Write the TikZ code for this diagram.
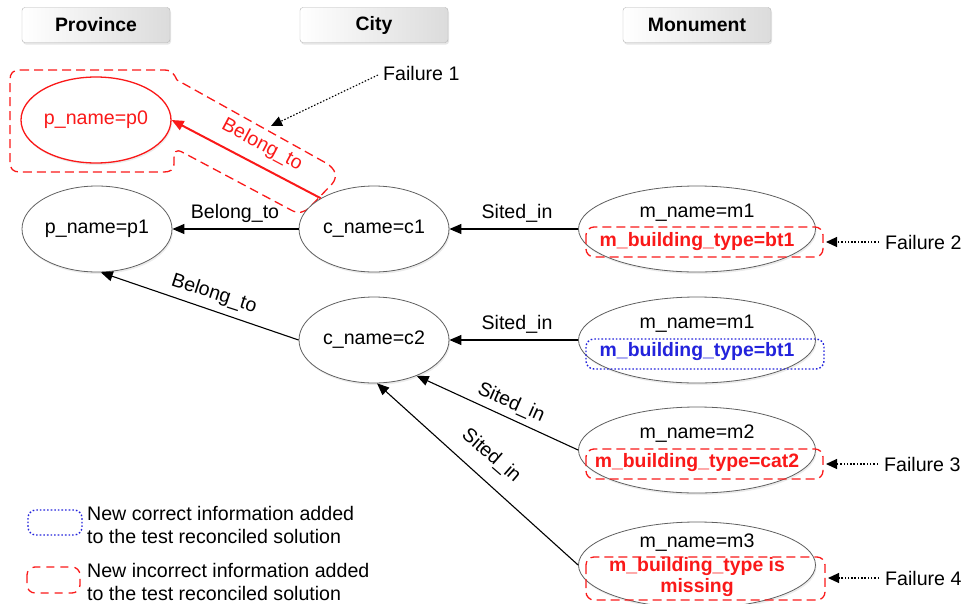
\documentclass[tikz,border=0pt]{standalone}
\usepackage{fontspec}
\setmainfont{Liberation Sans}
\usetikzlibrary{arrows.meta,shapes.geometric,shadows}
\definecolor{rd}{RGB}{250,25,25}
\definecolor{bl}{RGB}{35,35,220}
\tikzset{
  every node/.style={font=\fontsize{19.6}{23}\selectfont},
  ent/.style={ellipse, draw=gray!75!black, line width=0.8pt, minimum width=150pt, minimum height=86pt, inner sep=0pt, fill=white,
    drop shadow={opacity=0.15, shadow xshift=1pt, shadow yshift=-2pt}},
  ment/.style={ent, minimum width=237pt},
  hdr/.style={draw=gray!60, rounded corners=3pt, left color=white, right color=gray!28, minimum width=148pt, minimum height=35pt,
    font=\fontsize{19.4}{23}\selectfont\bfseries, drop shadow={opacity=0.2, shadow xshift=1pt, shadow yshift=-2pt}},
  rel/.style={-{Triangle[length=12pt,width=10pt]}, line width=1.1pt},
  badbox/.style={draw=rd, dash pattern=on 9pt off 5pt, line width=1.3pt, rounded corners=8pt},
  goodbox/.style={draw=bl, dash pattern=on 1.6pt off 2pt, line width=1.4pt, rounded corners=8pt},
  failarrow/.style={-{Triangle[length=11pt,width=10pt]}, line width=1.1pt, dash pattern=on 1.5pt off 1.8pt},
  bt/.style={text=rd, font=\fontsize{19.4}{21}\selectfont\bfseries, inner sep=0pt, align=center},
}
\begin{document}
\begin{tikzpicture}[x=1pt,y=-1pt]
\useasboundingbox (0,0) rectangle (964,603);

% headers
\node[hdr] (hp) at (96,25) {Province};
\node[hdr] (hc) at (374,25) {City};
\node[hdr] (hm) at (697,25) {Monument};

% failure 1 region
\draw[rd, dash pattern=on 9pt off 5pt, line width=1.3pt]
  (20,70) -- (164,70) .. controls (172,70) and (174,74) .. (177,80)
  -- (326,163) .. controls (336,169) and (338,177) .. (332,184)
  -- (310,207) .. controls (304,213) and (298,214) .. (291,210)
  -- (182,152) .. controls (176,149) and (174,152) .. (174,158)
  -- (174,163) .. controls (174,170) and (170,172) .. (164,172)
  -- (20,172) .. controls (13,172) and (10,169) .. (10,162)
  -- (10,80) .. controls (10,73) and (13,70) .. (20,70) -- cycle;

% entities
\node[ent, draw=rd, line width=1.3pt, text=rd] (p0) at (96,120) {p\_name=p0};
\node[ent] (p1) at (97,229) {p\_name=p1};
\node[ent] (c1) at (374,229) {c\_name=c1};
\node[ent] (c2) at (374,340) {c\_name=c2};
\node[ment] (m1) at (697,229) {};
\node[ment] (m1b) at (697,340) {};
\node[ment] (m2) at (697,450) {};
\node[ment] (m3) at (697,565) {};

% monument contents
\node[inner sep=0pt] (m1n) at (697,213) {m\_name=m1};
\draw[badbox] (586,227) rectangle (823,257);
\node[bt] (m1t) at (697,242) {m\_building\_type=bt1};

\node[inner sep=0pt] (m1bn) at (697,324) {m\_name=m1};
\draw[goodbox] (586,339) rectangle (824,369);
\node[bt, text=bl] (m1bt) at (697,352) {m\_building\_type=bt1};

\node[inner sep=0pt] (m2n) at (697,434) {m\_name=m2};
\draw[badbox] (586,449) rectangle (823,479);
\node[bt] (m2t) at (697,463) {m\_building\_type=cat2};

\node[inner sep=0pt] (m3n) at (697,543) {m\_name=m3};
\draw[badbox] (586,557) rectangle (825,600);
\node[bt] (m3t) at (697,577) {m\_building\_type is\\missing};

% relations
\draw[rel, rd, line width=2pt] (c1.150) -- (p0.east);
\node[text=rd, rotate=-28, inner sep=0pt] (l0) at (262,145) {Belong\_to};

\draw[rel] (c1.west) -- (p1.east);
\node[inner sep=0pt] (l1) at (235,213) {Belong\_to};

\draw[rel] (c2.west) -- (p1.-85);
\node[rotate=-18, inner sep=0pt] (l2) at (214,294) {Belong\_to};

\draw[rel] (m1.west) -- (c1.east);
\node[inner sep=0pt] (l3) at (517,213) {Sited\_in};

\draw[rel] (m1b.west) -- (c2.east);
\node[inner sep=0pt] (l4) at (517,324) {Sited\_in};

\draw[rel] (m2.west) -- (c2.-40);
\node[rotate=-24, inner sep=0pt] (l5) at (511,403) {Sited\_in};

\draw[rel] (m3.west) -- (c2.-86);
\node[rotate=-41, inner sep=0pt] (l6) at (491,456) {Sited\_in};

% failure labels
\node[anchor=west, inner sep=0pt] (f1) at (383,73) {Failure 1};
\coordinate (f1t) at (271,126);
\draw[failarrow] (f1.west) ++(-5,2) -- (f1t);

\node[anchor=west, inner sep=0pt] (f2) at (885,242) {Failure 2};
\draw[failarrow] ([xshift=-6pt]f2.west) -- (826,242);

\node[anchor=west, inner sep=0pt] (f3) at (884,464) {Failure 3};
\draw[failarrow] ([xshift=-6pt]f3.west) -- (826,464);

\node[anchor=west, inner sep=0pt] (f4) at (885,578) {Failure 4};
\draw[failarrow] ([xshift=-6pt]f4.west) -- (828,578);

% legend
\draw[goodbox] (28,510) rectangle (82,535);
\node[anchor=west, align=left, inner sep=0pt] (lg1) at (87,525) {New correct information added\\to the test reconciled solution};
\draw[badbox, dash pattern=on 8pt off 6pt] (27,567) rectangle (80,593);
\node[anchor=west, align=left, inner sep=0pt] (lg2) at (87,582) {New incorrect information added\\to the test reconciled solution};
\end{tikzpicture}
\end{document}
